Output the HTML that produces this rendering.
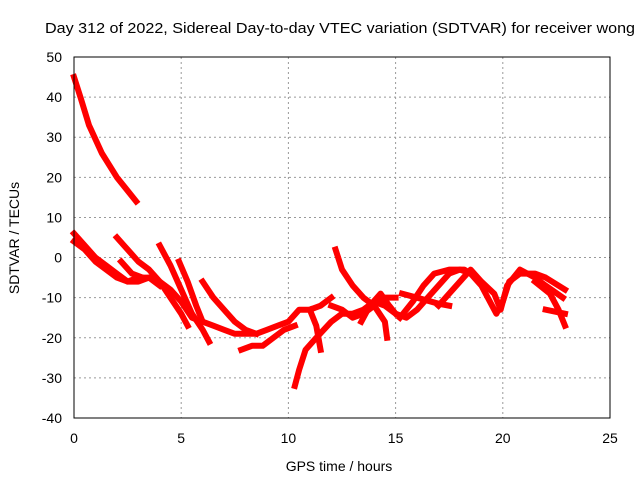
<!DOCTYPE html>
<html><head><meta charset="utf-8"><style>
body{margin:0;background:#fff}
svg{display:block;font-family:"Liberation Sans",sans-serif}
</style></head><body>
<svg id="c" width="640" height="480">
<rect width="640" height="480" fill="#fff"/>
<text x="45" y="33" font-size="15" textLength="590" lengthAdjust="spacingAndGlyphs">Day 312 of 2022, Sidereal Day-to-day VTEC variation (SDTVAR) for receiver wong</text>
<text x="339" y="471" font-size="14" text-anchor="middle">GPS time / hours</text>
<text transform="translate(19,238) rotate(-90)" font-size="14" text-anchor="middle">SDTVAR / TECUs</text>
<g id="grid"></g><g id="series"></g>
<rect x="74" y="57" width="536" height="361" fill="none" stroke="#000" stroke-width="1"/>
</svg>
<script>
const xTicks=[0,5,10,15,20,25];
const yTicks=[50,40,30,20,10,0,-10,-20,-30,-40];
const t1=[[0,45],[0.3,40],[0.7,33],[1.3,26],[2,20],[2.9,14]];
const t2=[[0,6],[0.5,3],[1,0],[1.5,-2],[2,-4],[2.5,-6],[3,-6],[3.5,-5],[4,-6],[4.5,-8],[5,-11],[5.5,-15],[6,-16],[6.5,-17],[7,-18],[7.5,-19],[8,-19],[8.5,-19],[9,-18],[9.5,-17],[10,-16],[10.5,-13],[11,-13],[11.5,-12],[12,-10]];
const t3=[[0,4],[0.5,2],[1,-1],[1.5,-3],[2,-5],[2.5,-6],[3,-5],[3.5,-5],[4,-7]];
const t4=[[2,5],[2.5,2],[3,-1],[3.5,-3],[4,-6],[4.5,-10],[5,-14],[5.3,-17]];
const t5=[[2.2,-1],[2.7,-4],[3.2,-5]];
const t6=[[4,3],[4.5,-2],[5,-8],[5.5,-14],[6,-18],[6.3,-21]];
const t7=[[4.9,-1],[5.3,-6],[5.7,-12],[6,-16]];
const t8=[[6,-6],[6.5,-10],[7,-13],[7.5,-16],[8,-18],[8.5,-19]];
const t9=[[7.8,-23],[8.3,-22],[8.8,-22],[9.3,-20],[9.8,-18],[10.3,-17]];
const t10=[[10.3,-32],[10.5,-28],[10.8,-23],[11.3,-20],[12,-16],[12.5,-14],[13,-14],[13.5,-13],[14,-11],[14.5,-12],[15,-14],[15.5,-15],[16,-13],[16.5,-10],[17,-7],[17.5,-4],[18,-3],[18.5,-4],[19,-7],[19.5,-12],[19.7,-14],[20,-11],[20.3,-6],[20.8,-4],[21.5,-4],[22,-5],[22.9,-8]];
const t11=[[11,-13],[11.3,-17],[11.5,-23]];
const t12=[[12.2,2],[12.5,-3],[13,-7],[13.5,-10],[14,-12],[14.5,-16],[14.6,-20]];
const t13=[[12,-12],[12.5,-13],[13,-15],[13.5,-14],[14,-12],[14.5,-10],[15,-10]];
const t14=[[13.4,-16],[13.8,-12],[14.3,-9],[14.7,-12],[15,-14]];
const t15=[[15.2,-15],[15.8,-11],[16.3,-7],[16.8,-4],[17.5,-3],[18.2,-3],[18.8,-5],[19.2,-8]];
const t16=[[15.3,-9],[16,-10],[17,-11.5],[17.5,-12]];
const t17=[[17,-12],[17.5,-9],[18,-6],[18.5,-3],[19,-6],[19.6,-9],[19.9,-13],[20.2,-7],[20.8,-3],[21.5,-5],[22,-7],[22.8,-10]];
const t18=[[21.5,-6],[22.2,-9],[22.6,-13],[22.9,-17]];
const t19=[[22,-13],[22.9,-14]];
const tracks=[t1,t2,t3,t4,t5,t6,t7,t8,t9,t10,t11,t12,t13,t14,t15,t16,t17,t18,t19];
const X=h=>74+h*(536/25), Y=v=>57+(50-v)*(361/90);
const NS='http://www.w3.org/2000/svg';
const g=document.getElementById('grid'), s=document.getElementById('series');
function mk(t,a,p){const e=document.createElementNS(NS,t);for(const k in a)e.setAttribute(k,a[k]);p.appendChild(e);return e;}
xTicks.forEach(v=>{
 const l=mk('line',{x1:X(v),x2:X(v),y1:57,y2:418,stroke:'#999','stroke-dasharray':'2,3'},g);
 
 
 const t=mk('text',{x:X(v),y:443,'font-size':14,'text-anchor':'middle'},g);t.textContent=v;
 
 
});
yTicks.forEach(v=>{
 const l=mk('line',{x1:74,x2:610,y1:Y(v),y2:Y(v),stroke:'#999','stroke-dasharray':'2,3'},g);
 
 
 const t=mk('text',{x:62,y:Y(v)+5,'font-size':14,'text-anchor':'end'},g);t.textContent=v;
 
 
});
tracks.forEach(tr=>{
 const p=mk('polyline',{points:tr.map(d=>X(d[0])+','+Y(d[1])).join(' '),fill:'none',stroke:'#f00','stroke-width':6,'stroke-linejoin':'round','stroke-linecap':'square'},s);
 
 
});
</script>
</body></html>
